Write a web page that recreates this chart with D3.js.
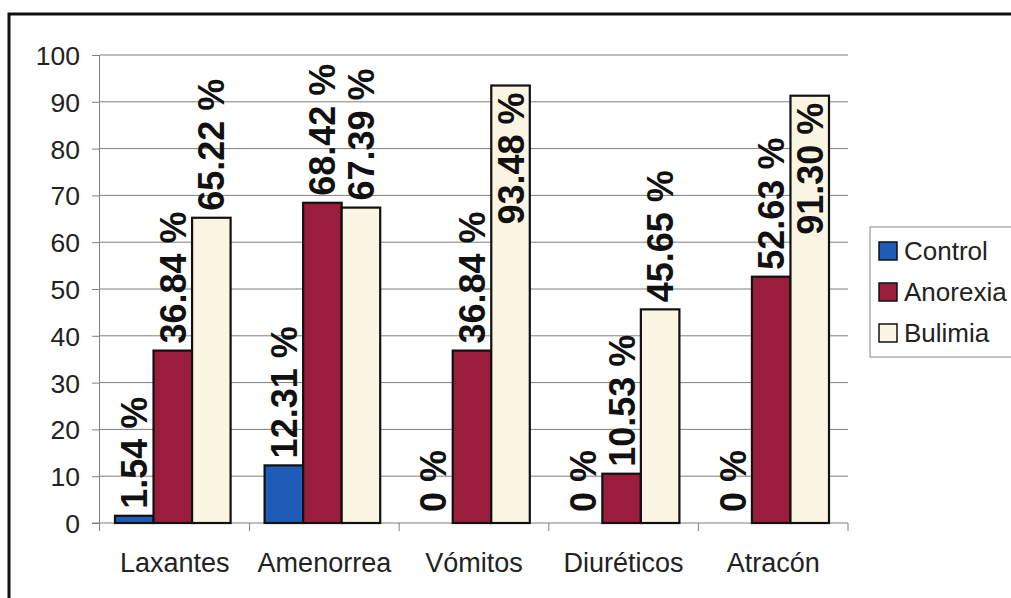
<!DOCTYPE html>
<html>
<head>
<meta charset="utf-8">
<script src="https://cdn.jsdelivr.net/npm/d3@7"></script>
<style>
  html, body { margin: 0; padding: 0; background: #fff; }
  svg { display: block; }
  text { font-family: Arial, "Liberation Sans", sans-serif; }
</style>
</head>
<body>
<svg id="chart" width="1011" height="598"></svg>
<script>
// Conductas compensatorias por grupo (porcentaje de casos)
const categories = ["Laxantes", "Amenorrea", "Vómitos", "Diuréticos", "Atracón"];
const seriesNames = ["Control", "Anorexia", "Bulimia"];
const control  = [1.54, 12.31, 0, 0, 0];
const anorexia = [36.84, 68.42, 36.84, 10.53, 52.63];
const bulimia  = [65.22, 67.39, 93.48, 45.65, 91.30];
const yTicks = [0, 10, 20, 30, 40, 50, 60, 70, 80, 90, 100];

const seriesValues = [control, anorexia, bulimia];
const colors = ["#1f5cb8", "#9a1e3c", "#faf5e2"];

const svg = d3.select("#chart");
const W = 1011, H = 598;
const plot = { left: 100, right: 848, top: 55, bottom: 523 };

svg.append("rect").attr("width", W).attr("height", H).attr("fill", "#fff");

// frame of the chart area
svg.append("path")
  .attr("d", `M9,${H} L9,14 L${W},14`)
  .attr("fill", "none").attr("stroke", "#111").attr("stroke-width", 3);

const x0 = d3.scaleBand().domain(categories).range([plot.left, plot.right]).padding(0);
const x1 = d3.scaleBand().domain(seriesNames).range([15, x0.bandwidth() - 19]).padding(0);
const y = d3.scaleLinear().domain([0, 100]).range([plot.bottom, plot.top]);

// horizontal gridlines
svg.append("g").selectAll("line").data(yTicks.filter(t => t > 0)).join("line")
  .attr("x1", plot.left).attr("x2", plot.right)
  .attr("y1", d => y(d)).attr("y2", d => y(d))
  .attr("stroke", "#7f7f7f").attr("stroke-width", 1);

// y axis
const yAxis = svg.append("g")
  .attr("transform", `translate(${plot.left},0)`)
  .call(d3.axisLeft(y).tickValues(yTicks).tickSize(8).tickPadding(12));
yAxis.select(".domain").attr("stroke", "#7f7f7f").attr("d", `M-0.5,${plot.bottom + 8}V${plot.top}`);
yAxis.selectAll(".tick line").attr("stroke", "#7f7f7f");
yAxis.selectAll(".tick text")
  .attr("font-size", 26.5).attr("fill", "#222").attr("dy", "0.36em")
  .style("font-family", "Arial, 'Liberation Sans', sans-serif");

// x axis with ticks between categories
const xAxisG = svg.append("g").attr("transform", `translate(0,${plot.bottom})`);
xAxisG.append("line").attr("x1", plot.left - 8).attr("x2", plot.right)
  .attr("y1", 0).attr("y2", 0).attr("stroke", "#7f7f7f");
const boundaries = categories.map(c => x0(c) + x0.bandwidth());
xAxisG.selectAll("line.tk").data(boundaries).join("line").attr("class", "tk")
  .attr("x1", d => d).attr("x2", d => d).attr("y1", 0).attr("y2", 8)
  .attr("stroke", "#7f7f7f");
xAxisG.selectAll("text").data(categories).join("text")
  .attr("x", d => x0(d) + x0.bandwidth() / 2)
  .attr("y", 49)
  .attr("text-anchor", "middle")
  .attr("font-size", 27).attr("fill", "#222")
  .text(d => d);

// bars
const rows = categories.map((c, i) => ({ cat: c, vals: seriesNames.map((s, k) => ({ s, k, v: seriesValues[k][i] })) }));
const groups = svg.append("g").selectAll("g").data(rows).join("g")
  .attr("transform", d => `translate(${x0(d.cat)},0)`);

groups.selectAll("rect").data(d => d.vals.filter(e => e.v > 0)).join("rect")
  .attr("x", e => x1(e.s))
  .attr("y", e => y(e.v))
  .attr("width", x1.bandwidth())
  .attr("height", e => y(0) - y(e.v))
  .attr("fill", e => colors[e.k])
  .attr("stroke", "#111").attr("stroke-width", 2.2);

// value labels, rotated; placed inside the bar when they would overflow the plot
const fmt = v => (v === 0 ? "0" : v.toFixed(2)) + " %";
groups.selectAll("text").data(d => d.vals).join("text")
  .attr("font-size", 36).attr("font-weight", "bold").attr("fill", "#111")
  .attr("dy", "0.36em")
  .text(e => fmt(e.v))
  .each(function (e) {
    const t = d3.select(this);
    const cx = x1(e.s) + x1.bandwidth() / 2;
    const len = this.getComputedTextLength();
    const top = y(e.v);
    if (top - 8 - len < plot.top) {
      t.attr("text-anchor", "end")
       .attr("transform", `translate(${cx},${top + 7}) rotate(-90)`);
    } else {
      t.attr("text-anchor", "start")
       .attr("transform", `translate(${cx},${top - (e.v === 0 ? 11 : 7)}) rotate(-90)`);
    }
  });

// legend
const lg = svg.append("g").attr("transform", "translate(870,227)");
lg.append("rect").attr("width", 200).attr("height", 130)
  .attr("fill", "#fff").attr("stroke", "#9a9a9a").attr("stroke-width", 1.2);
const items = lg.selectAll("g").data(seriesNames).join("g")
  .attr("transform", (d, i) => `translate(9,${24 + i * 41})`);
items.append("rect").attr("x", 0).attr("y", -9).attr("width", 18).attr("height", 18)
  .attr("fill", (d, i) => colors[i]).attr("stroke", "#111").attr("stroke-width", 1.5);
items.append("text").attr("x", 25).attr("y", 0).attr("dy", "0.36em")
  .attr("font-size", 26).attr("fill", "#222").text(d => d);
</script>
</body>
</html>
